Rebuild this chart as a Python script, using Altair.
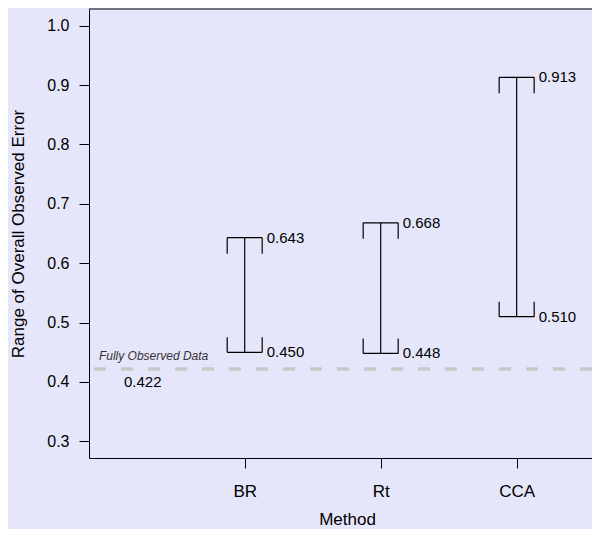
import altair as alt
import pandas as pd

# ---- data ----
methods = ["BR", "Rt", "CCA"]
lower = [0.450, 0.448, 0.510]
upper = [0.643, 0.668, 0.913]
reference_value = 0.422
reference_label = "Fully Observed Data"
y_ticks = [0.3, 0.4, 0.5, 0.6, 0.7, 0.8, 0.9, 1.0]

df = pd.DataFrame({
    "method": methods,
    "pos": list(range(1, len(methods) + 1)),
    "lower": lower,
    "upper": upper,
})
ref_df = pd.DataFrame({"value": [reference_value], "label": [reference_label]})

FONT = "Liberation Sans"
BG = "#E6E6FA"
INK = "#000000"

x_scale = alt.Scale(domain=[-0.145, 3.554], nice=False, zero=False)
y_scale = alt.Scale(domain=[0.272, 1.028], nice=False, zero=False)

label_expr = " : ".join(
    f"datum.value == {i + 1} ? '{m}'" for i, m in enumerate(methods)
) + " : ''"

x_axis = alt.Axis(
    values=list(range(1, len(methods) + 1)), labelExpr=label_expr,
    title="Method", grid=False, tickSize=10, labelPadding=15,
    labelFontSize=17, labelFont=FONT, labelColor=INK,
    domainColor=INK, tickColor=INK, domainWidth=1, tickWidth=1,
    titleFont=FONT, titleFontSize=17, titleFontWeight="normal", titleColor=INK,
    titleX=258, titleY=66, titleBaseline="alphabetic", titleAlign="center",
    labelFlush=False, labelOverlap=False,
)
y_axis = alt.Axis(
    values=y_ticks, format=".1f",
    title="Range of Overall Observed Error", grid=False, tickSize=10,
    labelPadding=10, labelFontSize=16, labelFont=FONT, labelColor=INK,
    domainColor=INK, tickColor=INK, domainWidth=1, tickWidth=1,
    titleFont=FONT, titleFontSize=17, titleFontWeight="normal", titleColor=INK,
    titleX=-71, titleY=224.5, titleAngle=-90, titleAlign="center",
    titleBaseline="middle", labelFlush=False, labelOverlap=False,
)

X = alt.X("pos:Q", scale=x_scale, axis=x_axis)

def Y(field):
    return alt.Y(field, scale=y_scale, axis=y_axis)

base = alt.Chart(df)

stem = base.mark_rule(color=INK, strokeWidth=1.2).encode(
    x=X, y=Y("lower:Q"), y2="upper:Q")

top_cap = base.mark_rule(color=INK, strokeWidth=1.2, xOffset=-17.5, x2Offset=17.5).encode(
    x=X, x2="pos:Q", y=Y("upper:Q"))
top_l = base.mark_rule(color=INK, strokeWidth=1.2, xOffset=-17.5, y2Offset=16).encode(
    x=X, y=Y("upper:Q"), y2="upper:Q")
top_r = base.mark_rule(color=INK, strokeWidth=1.2, xOffset=17.5, y2Offset=16).encode(
    x=X, y=Y("upper:Q"), y2="upper:Q")

bot_cap = base.mark_rule(color=INK, strokeWidth=1.2, xOffset=-17.5, x2Offset=17.5).encode(
    x=X, x2="pos:Q", y=Y("lower:Q"))
bot_l = base.mark_rule(color=INK, strokeWidth=1.2, xOffset=-17.5, y2Offset=-15).encode(
    x=X, y=Y("lower:Q"), y2="lower:Q")
bot_r = base.mark_rule(color=INK, strokeWidth=1.2, xOffset=17.5, y2Offset=-15).encode(
    x=X, y=Y("lower:Q"), y2="lower:Q")

up_lab = base.mark_text(align="left", baseline="middle", dx=22, fontSize=15,
                        font=FONT, color=INK).encode(
    x=X, y=Y("upper:Q"), text=alt.Text("upper:Q", format=".3f"))
lo_lab = base.mark_text(align="left", baseline="middle", dx=22, fontSize=15,
                        font=FONT, color=INK).encode(
    x=X, y=Y("lower:Q"), text=alt.Text("lower:Q", format=".3f"))

ref_base = alt.Chart(ref_df)
ref_line = ref_base.mark_rule(color="#C8C8C8", strokeWidth=3.5,
                              strokeDash=[12, 15], strokeCap="butt").encode(
    y=Y("value:Q"))
ref_name = ref_base.mark_text(align="center", baseline="middle", dy=-13,
                              fontSize=12, fontStyle="italic", font=FONT,
                              color="#333333").encode(
    x=alt.X(datum=0.33, scale=x_scale, axis=x_axis), y=Y("value:Q"), text="label:N")
ref_val = ref_base.mark_text(align="center", baseline="middle", dy=13,
                             fontSize=15, font=FONT, color=INK).encode(
    x=alt.X(datum=0.25, scale=x_scale, axis=x_axis), y=Y("value:Q"),
    text=alt.Text("value:Q", format=".3f"))

top_frame = ref_base.mark_rule(color=INK, strokeWidth=1).encode(y=alt.value(0))

chart = alt.layer(
    ref_line, top_frame, stem, top_cap, top_l, top_r, bot_cap, bot_l, bot_r,
    up_lab, lo_lab, ref_name, ref_val,
).properties(
    width=503, height=449,
    padding={"left": 81, "top": 1, "right": 0, "bottom": 71},
    autosize=alt.AutoSizeParams(type="none"),
    background=BG,
).configure_view(stroke=None)

chart.save("out.html", embed_options={"renderer": "svg", "actions": False})
